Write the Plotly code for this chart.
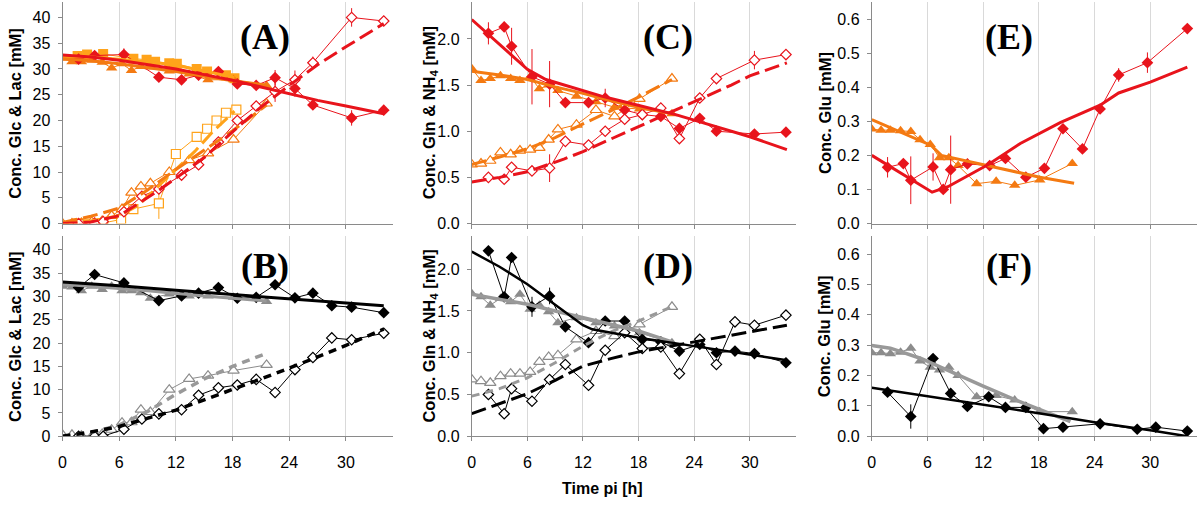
import plotly.graph_objects as go

# ---------------- DATA ----------------
T_TRI = [0, 1.0, 2.0, 3.1, 4.2, 5.2, 6.3, 7.3, 8.3, 9.3, 11.3, 13.4, 15.4, 18.1, 21.6]

# Panel A (Glc / Lac, coloured)
a_glc_red_t = [1.7, 3.4, 6.5, 10.2, 12.6, 14.4, 16.5, 18.5, 20.5, 22.5, 24.6, 26.5, 30.6, 34.0]
a_glc_red = [31.9, 32.6, 32.8, 28.4, 27.9, 28.8, 29.5, 27.1, 26.8, 28.3, 26.2, 23.0, 20.5, 22.0]
a_glc_red_err = [0, 0, 1.2, 0, 0, 1.0, 0, 0, 0, 1.5, 1.6, 0, 1.5, 0]
a_lac_red_t = [1.7, 3.4, 4.3, 6.5, 8.4, 10.2, 12.6, 14.4, 16.5, 18.5, 20.5, 22.5, 24.6, 26.5, 30.6, 34.0]
a_lac_red = [0.0, 0.1, 0.4, 2.3, 5.3, 6.7, 9.4, 11.4, 15.8, 20.0, 22.8, 25.6, 27.9, 31.2, 40.0, 39.3]
a_lac_red_err = [0, 0, 0, 0.6, 0.5, 0, 0, 0, 0, 0, 0, 2.0, 1.8, 1.2, 1.8, 0]
a_glc_sq_t = [1.6, 2.6, 4.3, 7.5, 8.9, 9.8, 11.3, 12.1, 14.2, 15.3, 17.3, 18.2]
a_glc_sq = [32.5, 32.8, 32.9, 32.0, 31.8, 31.4, 31.1, 31.0, 30.0, 29.5, 28.8, 28.2]
a_lac_sq_t = [1.6, 2.6, 4.3, 6.2, 7.5, 10.2, 12.0, 14.2, 15.3, 16.3, 17.3, 18.4]
a_lac_sq = [0.0, 0.0, 0.1, 0.8, 2.8, 3.9, 13.5, 16.8, 18.4, 20.0, 21.5, 22.1]
a_lac_sq_err = [0, 0, 0, 0, 0.8, 3.0, 0, 0, 0, 0, 0, 0]
a_glc_tri = [32.1, 31.4, 31.4, 31.7, 31.3, 30.2, 31.0, 29.7, 30.5, 30.4, 29.6, 29.0, 27.9, 27.9, 26.8]
a_lac_tri = [0.0, 0.0, 0.1, 0.3, 0.5, 1.5, 2.8, 6.0, 7.2, 7.8, 10.0, 12.3, 13.6, 16.3, 23.3]
a_fit_t = [0, 3, 6, 9, 12, 15, 18, 21, 24, 27, 30, 34]
a_fit_glc_red = [32.7, 32.3, 31.7, 30.9, 30.0, 28.9, 27.8, 26.5, 25.2, 23.9, 22.8, 21.3]
a_fit_lac_t = [0, 3, 6, 8, 10, 12, 15, 18, 21, 24, 27, 30, 34]
a_fit_lac_red = [0.0, 0.3, 1.5, 3.8, 6.2, 8.8, 12.8, 17.8, 22.6, 26.8, 30.8, 34.3, 38.8]
a_fit_sq_t = [0, 3, 6, 8, 10, 12, 14, 16, 18.2]
a_fit_glc_sq = [32.4, 32.3, 31.9, 31.6, 31.2, 30.7, 30.0, 29.2, 28.3]
a_fit_lac_sq = [0.1, 0.5, 1.5, 3.5, 7.0, 10.5, 14.0, 18.0, 21.8]
a_fit_tri_t = [0, 3, 6, 9, 12, 15, 18, 21.6]
a_fit_glc_tri = [32.0, 31.6, 31.0, 30.3, 29.5, 28.6, 27.7, 26.9]
a_fit_lac_tri = [0.2, 1.4, 3.0, 6.5, 10.5, 14.3, 18.0, 23.0]

# Panel B (Glc / Lac, black & grey)
b_glc_blk_t = [1.7, 3.4, 6.5, 10.2, 12.6, 14.4, 16.5, 18.5, 20.5, 22.5, 24.6, 26.5, 28.5, 30.6, 34.0]
b_glc_blk = [31.9, 34.7, 32.9, 29.1, 30.1, 30.7, 31.9, 29.6, 29.8, 32.5, 29.7, 30.7, 28.0, 27.7, 26.5]
b_lac_blk_t = [1.7, 3.4, 4.3, 6.5, 8.4, 10.2, 12.6, 14.4, 16.5, 18.5, 20.5, 22.5, 24.6, 26.5, 28.5, 30.6, 34.0]
b_lac_blk = [0.0, 0.0, 0.0, 1.5, 3.7, 4.8, 5.7, 8.8, 10.4, 11.0, 12.2, 9.4, 14.3, 16.9, 21.1, 20.7, 22.1]
b_glc_gry = [32.2, 32.0, 31.2, 32.2, 31.5, 32.2, 31.2, 31.2, 30.8, 29.6, 30.5, 30.1, 30.1, 29.8, 28.9]
b_lac_gry = [0.3, 0.3, 0.1, 0.0, 0.5, 1.4, 2.9, 3.0, 5.7, 5.2, 10.0, 12.3, 13.0, 14.1, 15.3]
b_fit_blk_t = [0, 6, 12, 18, 24, 30, 34]
b_fit_glc_blk = [33.1, 32.3, 31.3, 30.4, 29.5, 28.6, 28.0]
b_fit_lac_t = [0, 3, 6, 9, 12, 15, 18, 21, 24, 27, 30, 34]
b_fit_lac_blk = [0.0, 0.9, 2.1, 3.8, 5.6, 7.8, 10.0, 12.3, 14.6, 17.0, 19.5, 23.0]
b_fit_tri_t = [0, 3, 6, 9, 12, 15, 18, 21.6]
b_fit_glc_gry = [32.6, 32.2, 31.7, 31.2, 30.6, 30.1, 29.6, 29.0]
b_fit_lac_gry = [0.0, 0.8, 2.4, 5.3, 9.0, 12.3, 15.0, 17.8]

# Panel C (Gln / NH4, coloured)
c_t_dia = [1.8, 3.5, 4.3, 6.5, 8.4, 10.1, 12.6, 14.4, 16.5, 18.4, 20.4, 22.4, 24.6, 26.4, 30.5, 33.9]
c_gln_red = [2.06, 2.13, 1.92, 1.59, 1.51, 1.31, 1.31, 1.36, 1.23, 1.18, 1.16, 1.03, 1.14, 1.00, 0.97, 0.99]
c_gln_red_err = [0.12, 0, 0.2, 0.3, 0.25, 0, 0, 0.1, 0, 0, 0, 0, 0, 0, 0, 0]
c_nh4_red = [0.50, 0.48, 0.61, 0.57, 0.60, 0.89, 0.85, 1.00, 1.13, 1.18, 1.25, 0.92, 1.36, 1.57, 1.77, 1.83]
c_nh4_red_err = [0, 0, 0, 0, 0.15, 0, 0, 0, 0, 0, 0, 0, 0, 0, 0.1, 0]
c_gln_tri = [1.68, 1.55, 1.57, 1.60, 1.57, 1.55, 1.59, 1.46, 1.50, 1.44, 1.38, 1.32, 1.26, 1.24, 1.19]
c_nh4_tri = [0.64, 0.65, 0.68, 0.77, 0.75, 0.79, 0.80, 0.82, 0.91, 1.02, 1.07, 1.23, 1.16, 1.35, 1.57]
c_fit_t = [0, 3, 6, 8, 10, 12, 14, 16, 18, 20, 22, 24, 26, 28, 30, 34]
c_fit_gln_red = [2.21, 1.94, 1.67, 1.56, 1.50, 1.44, 1.38, 1.33, 1.28, 1.23, 1.18, 1.12, 1.06, 1.00, 0.94, 0.80]
c_fit_nh4_red = [0.45, 0.50, 0.56, 0.63, 0.70, 0.78, 0.87, 0.96, 1.05, 1.14, 1.23, 1.32, 1.41, 1.50, 1.60, 1.74]
c_fit_tri_t = [0, 3, 6, 9, 12, 15, 18, 21.6]
c_fit_gln_tri = [1.65, 1.61, 1.56, 1.48, 1.41, 1.33, 1.26, 1.19]
c_fit_nh4_tri = [0.64, 0.72, 0.81, 0.93, 1.08, 1.22, 1.37, 1.56]

# Panel D (Gln / NH4, black & grey)
d_t_dia = [1.8, 3.5, 4.3, 6.5, 8.4, 10.1, 12.6, 14.4, 16.5, 18.4, 20.4, 22.4, 24.6, 26.4, 28.4, 30.5, 33.9]
d_gln_blk = [2.22, 1.67, 2.14, 1.55, 1.68, 1.31, 1.12, 1.38, 1.38, 1.16, 1.13, 1.02, 1.10, 1.00, 1.02, 0.99, 0.88]
d_gln_blk_err = [0, 0, 0, 0.12, 0.1, 0, 0, 0.06, 0, 0, 0, 0, 0, 0, 0, 0, 0]
d_nh4_blk = [0.50, 0.27, 0.57, 0.42, 0.68, 0.86, 0.61, 1.03, 1.24, 1.05, 1.07, 0.75, 1.16, 0.86, 1.37, 1.33, 1.45]
d_gln_gry = [1.71, 1.67, 1.57, 1.65, 1.61, 1.70, 1.52, 1.57, 1.49, 1.36, 1.42, 1.36, 1.32, 1.24, 1.12]
d_nh4_gry = [0.68, 0.66, 0.64, 0.72, 0.75, 0.75, 0.77, 0.89, 0.95, 0.97, 1.16, 1.26, 1.20, 1.34, 1.55]
d_fit_t = [0, 3, 6, 9, 12, 13, 15, 18, 21, 24, 27, 30, 34]
d_fit_gln_blk = [2.21, 2.03, 1.82, 1.57, 1.33, 1.28, 1.24, 1.18, 1.13, 1.08, 1.03, 0.98, 0.91]
d_fit_nh4_blk = [0.27, 0.39, 0.51, 0.67, 0.84, 0.87, 0.93, 1.01, 1.07, 1.13, 1.19, 1.25, 1.33]
d_fit_tri_t = [0, 3, 6, 9, 12, 15, 18, 21.6]
d_fit_gln_gry = [1.70, 1.64, 1.58, 1.50, 1.42, 1.34, 1.26, 1.13]
d_fit_nh4_gry = [0.48, 0.57, 0.70, 0.88, 1.08, 1.25, 1.38, 1.55]

# Panel E (Glu, coloured)
e_t_dia = [1.7, 3.4, 4.2, 6.6, 7.7, 8.5, 10.3, 12.7, 14.4, 16.6, 18.6, 20.6, 22.7, 24.6, 26.6, 29.7, 34.0]
e_glu_red = [0.165, 0.176, 0.127, 0.166, 0.100, 0.158, 0.175, 0.170, 0.191, 0.136, 0.162, 0.278, 0.219, 0.336, 0.436, 0.472, 0.572]
e_glu_red_err = [0.03, 0, 0.07, 0.04, 0, 0.1, 0, 0, 0, 0, 0, 0, 0, 0, 0.02, 0.03, 0]
e_glu_tri = [0.277, 0.274, 0.274, 0.272, 0.270, 0.246, 0.232, 0.193, 0.193, 0.170, 0.117, 0.124, 0.112, 0.128, 0.176]
e_fit_red_t = [0, 3, 6.5, 8.2, 12.6, 16, 20.3, 24.6, 26.6, 30, 34]
e_fit_red = [0.200, 0.150, 0.092, 0.108, 0.174, 0.235, 0.296, 0.347, 0.383, 0.415, 0.459]
e_fit_tri_t = [0, 3, 6.4, 7.5, 10, 12.6, 15, 18.1, 21.8]
e_fit_tri = [0.305, 0.270, 0.229, 0.200, 0.185, 0.171, 0.155, 0.136, 0.118]

# Panel F (Glu, black & grey)
f_t_dia = [1.7, 4.2, 6.6, 8.5, 10.3, 12.6, 14.4, 16.6, 18.5, 20.6, 24.6, 28.6, 30.6, 34.0]
f_glu_blk = [0.145, 0.065, 0.256, 0.141, 0.098, 0.130, 0.095, 0.095, 0.025, 0.030, 0.041, 0.023, 0.030, 0.017]
f_glu_blk_err = [0, 0.04, 0, 0, 0, 0, 0, 0, 0, 0, 0, 0, 0, 0]
f_glu_gry = [0.275, 0.275, 0.272, 0.277, 0.290, 0.248, 0.227, 0.218, 0.227, 0.200, 0.130, 0.134, 0.119, 0.081, 0.081]
f_fit_blk_t = [0, 6, 12, 18, 24, 30, 34]
f_fit_blk = [0.160, 0.132, 0.105, 0.076, 0.046, 0.020, 0.0]
f_fit_gry_t = [0, 2, 5.3, 9.4, 12, 15.4, 18, 21.4]
f_fit_gry = [0.299, 0.290, 0.256, 0.199, 0.165, 0.121, 0.090, 0.048]

X_TICKS = [0, 6, 12, 18, 24, 30]
PANEL_LABELS = ["(A)", "(B)", "(C)", "(D)", "(E)", "(F)"]
Y_TITLES = ["Conc. Glc & Lac [mM]", "Conc. Gln & NH<sub>4</sub> [mM]", "Conc. Glu [mM]"]
X_TITLE = "Time pi [h]"

# ---------------- STYLE ----------------
RED = "#E8141C"
ORANGE = "#F47A12"
AMBER = "#FFA31A"
GRAY = "#8C8C8C"
GRAYFIT = "#999999"
BLACK = "#000000"
SANS = "Liberation Sans, Arial, sans-serif"
SERIF = "Liberation Serif, Times New Roman, serif"

W, H = 1200, 516
def px(x): return x / W
def py(y): return 1 - y / H

COLS = [(58.7, 390.5), (469.3, 794.8), (870.7, 1196.6)]
ROWS = [(2, 227.5), (240, 444)]
YR = {1: [0, 43], 2: [0, 43], 3: [0, 2.4], 4: [0, 2.4], 5: [0, 0.65], 6: [0, 0.66]}

fig = go.Figure()

def ax(n):
    return ("x" if n == 1 else f"x{n}"), ("y" if n == 1 else f"y{n}")

def data(n, x, y, color, symbol, size, hollow=False, err=None):
    xa, ya = ax(n)
    if hollow:
        marker = dict(symbol=symbol, size=size, color="white", line=dict(color=color, width=1.2))
    else:
        marker = dict(symbol=symbol, size=size, color=color, line=dict(color=color, width=0))
    kw = {}
    if err is not None:
        kw["error_y"] = dict(type="data", array=err, visible=True, color=color, thickness=1, width=0)
    fig.add_trace(go.Scatter(x=x, y=y, mode="lines+markers", xaxis=xa, yaxis=ya,
                             line=dict(color=color, width=1), marker=marker,
                             showlegend=False, hoverinfo="skip", **kw))

def fit(n, x, y, color, dash="solid", width=3):
    xa, ya = ax(n)
    fig.add_trace(go.Scatter(x=x, y=y, mode="lines", xaxis=xa, yaxis=ya,
                             line=dict(color=color, width=width, dash=dash),
                             showlegend=False, hoverinfo="skip"))

LONG = "15px,6px"
SHORT = "8px,6px"

# Panel A
data(1, a_glc_sq_t, a_glc_sq, AMBER, "square", 10)
data(1, a_lac_sq_t, a_lac_sq, AMBER, "square", 9, hollow=True, err=a_lac_sq_err)
data(1, T_TRI, a_glc_tri, ORANGE, "triangle-up", 10)
data(1, T_TRI, a_lac_tri, ORANGE, "triangle-up", 10, hollow=True)
data(1, a_glc_red_t, a_glc_red, RED, "diamond", 9, err=a_glc_red_err)
data(1, a_lac_red_t, a_lac_red, RED, "diamond", 8, hollow=True, err=a_lac_red_err)
fit(1, a_fit_sq_t, a_fit_glc_sq, AMBER)
fit(1, a_fit_sq_t, a_fit_lac_sq, AMBER, LONG)
fit(1, a_fit_tri_t, a_fit_glc_tri, ORANGE)
fit(1, a_fit_tri_t, a_fit_lac_tri, ORANGE, LONG)
fit(1, a_fit_t, a_fit_glc_red, RED)
fit(1, a_fit_lac_t, a_fit_lac_red, RED, LONG)

# Panel B
data(2, T_TRI, b_glc_gry, GRAY, "triangle-up", 10)
data(2, T_TRI, b_lac_gry, GRAY, "triangle-up", 10, hollow=True)
data(2, b_glc_blk_t, b_glc_blk, BLACK, "diamond", 9)
data(2, b_lac_blk_t, b_lac_blk, BLACK, "diamond", 8, hollow=True)
fit(2, b_fit_tri_t, b_fit_glc_gry, GRAYFIT)
fit(2, b_fit_tri_t, b_fit_lac_gry, GRAYFIT, SHORT, 3.5)
fit(2, b_fit_blk_t, b_fit_glc_blk, BLACK)
fit(2, b_fit_lac_t, b_fit_lac_blk, BLACK, SHORT, 3.5)

# Panel C
data(3, T_TRI, c_gln_tri, ORANGE, "triangle-up", 10)
data(3, T_TRI, c_nh4_tri, ORANGE, "triangle-up", 10, hollow=True)
data(3, c_t_dia, c_gln_red, RED, "diamond", 9, err=c_gln_red_err)
data(3, c_t_dia, c_nh4_red, RED, "diamond", 8, hollow=True, err=c_nh4_red_err)
fit(3, c_fit_tri_t, c_fit_gln_tri, ORANGE)
fit(3, c_fit_tri_t, c_fit_nh4_tri, ORANGE, LONG)
fit(3, c_fit_t, c_fit_gln_red, RED)
fit(3, c_fit_t, c_fit_nh4_red, RED, LONG)

# Panel D
data(4, T_TRI, d_gln_gry, GRAY, "triangle-up", 10)
data(4, T_TRI, d_nh4_gry, GRAY, "triangle-up", 10, hollow=True)
data(4, d_t_dia, d_gln_blk, BLACK, "diamond", 9, err=d_gln_blk_err)
data(4, d_t_dia, d_nh4_blk, BLACK, "diamond", 8, hollow=True)
fit(4, d_fit_tri_t, d_fit_gln_gry, GRAYFIT, "solid", 3.5)
fit(4, d_fit_tri_t, d_fit_nh4_gry, GRAYFIT, SHORT, 3)
fit(4, d_fit_t, d_fit_gln_blk, BLACK, "solid", 2.5)
fit(4, d_fit_t, d_fit_nh4_blk, BLACK, LONG, 3)

# Panel E
data(5, T_TRI, e_glu_tri, ORANGE, "triangle-up", 10)
data(5, e_t_dia, e_glu_red, RED, "diamond", 9, err=e_glu_red_err)
fit(5, e_fit_tri_t, e_fit_tri, ORANGE)
fit(5, e_fit_red_t, e_fit_red, RED)

# Panel F
data(6, T_TRI, f_glu_gry, GRAY, "triangle-up", 10)
data(6, f_t_dia, f_glu_blk, BLACK, "diamond", 9, err=f_glu_blk_err)
fit(6, f_fit_gry_t, f_fit_gry, GRAYFIT, "solid", 3.5)
fit(6, f_fit_blk_t, f_fit_blk, BLACK, "solid", 2.5)

# ---------------- AXES ----------------
layout = {}
annotations = []
for n in range(1, 7):
    col = (n - 1) // 2
    row = (n - 1) % 2
    x0, x1 = COLS[col]
    ytop, ybot = ROWS[row]
    xa, ya = ax(n)
    xkey = "xaxis" if n == 1 else f"xaxis{n}"
    ykey = "yaxis" if n == 1 else f"yaxis{n}"
    layout[xkey] = dict(domain=[px(x0), px(x1)], anchor=ya, range=[0, 35],
                        tickvals=X_TICKS, showticklabels=(row == 1),
                        showgrid=True, gridcolor="#D9D9D9", gridwidth=1,
                        showline=True, linecolor="#8A8A8A", linewidth=1,
                        ticks="outside", ticklen=4, tickcolor="#8A8A8A",
                        ticklabelstandoff=8,
                        zeroline=False, tickfont=dict(family=SANS, size=16, color="black"))
    if col == 0:
        yt = dict(dtick=5, tickformat="d")
    elif col == 1:
        yt = dict(dtick=0.5, tickformat=".1f")
    else:
        yt = dict(dtick=0.1, tickformat=".1f")
    layout[ykey] = dict(domain=[py(ybot), py(ytop)], anchor=xa, range=YR[n],
                        showgrid=False, showline=True, linecolor="#8A8A8A", linewidth=1,
                        ticks="outside", ticklen=4, tickcolor="#8A8A8A", zeroline=False,
                        ticklabelstandoff=4,
                        tickfont=dict(family=SANS, size=16, color="black"), **yt)
    # y title
    tx = [11, 427, 823][col]
    annotations.append(dict(text=f"<b>{Y_TITLES[col]}</b>", x=px(tx), y=py((ytop + ybot) / 2),
                            xref="paper", yref="paper", textangle=-90, showarrow=False,
                            xanchor="center", yanchor="middle",
                            font=dict(family=SANS, size=16.5, color="black")))
    # panel label
    lx = [262, 666, 1008][col]
    ly = [38, 271][row]
    annotations.append(dict(text=f"<b>{PANEL_LABELS[n - 1]}</b>", x=px(lx), y=py(ly),
                            xref="paper", yref="paper", showarrow=False,
                            xanchor="center", yanchor="middle",
                            font=dict(family=SERIF, size=36, color="black")))

annotations.append(dict(text=f"<b>{X_TITLE}</b>", x=px(600), y=py(497), xref="paper", yref="paper",
                        showarrow=False, xanchor="center", yanchor="middle",
                        font=dict(family=SANS, size=16, color="black")))

fig.update_layout(width=W, height=H, margin=dict(l=0, r=0, t=0, b=0),
                  paper_bgcolor="white", plot_bgcolor="white",
                  showlegend=False, annotations=annotations, **layout)

POST = (
    "var d=document.getElementById('{plot_id}');"
    "document.documentElement.style.margin='0px';document.documentElement.style.padding='0px';"
    "document.documentElement.style.height='516px';document.documentElement.style.overflow='hidden';"
    "document.body.style.margin='0px';document.body.style.padding='0px';"
    "document.body.style.height='516px';document.body.style.overflow='hidden';"
    "if(d){d.style.height='516px';d.style.width='1200px';"
    "if(d.parentElement){d.parentElement.style.height='516px';d.parentElement.style.overflow='hidden';"
    "d.parentElement.style.lineHeight='0';}}"
)

fig.write_html("out.html", config={"displayModeBar": False}, post_script=POST)
